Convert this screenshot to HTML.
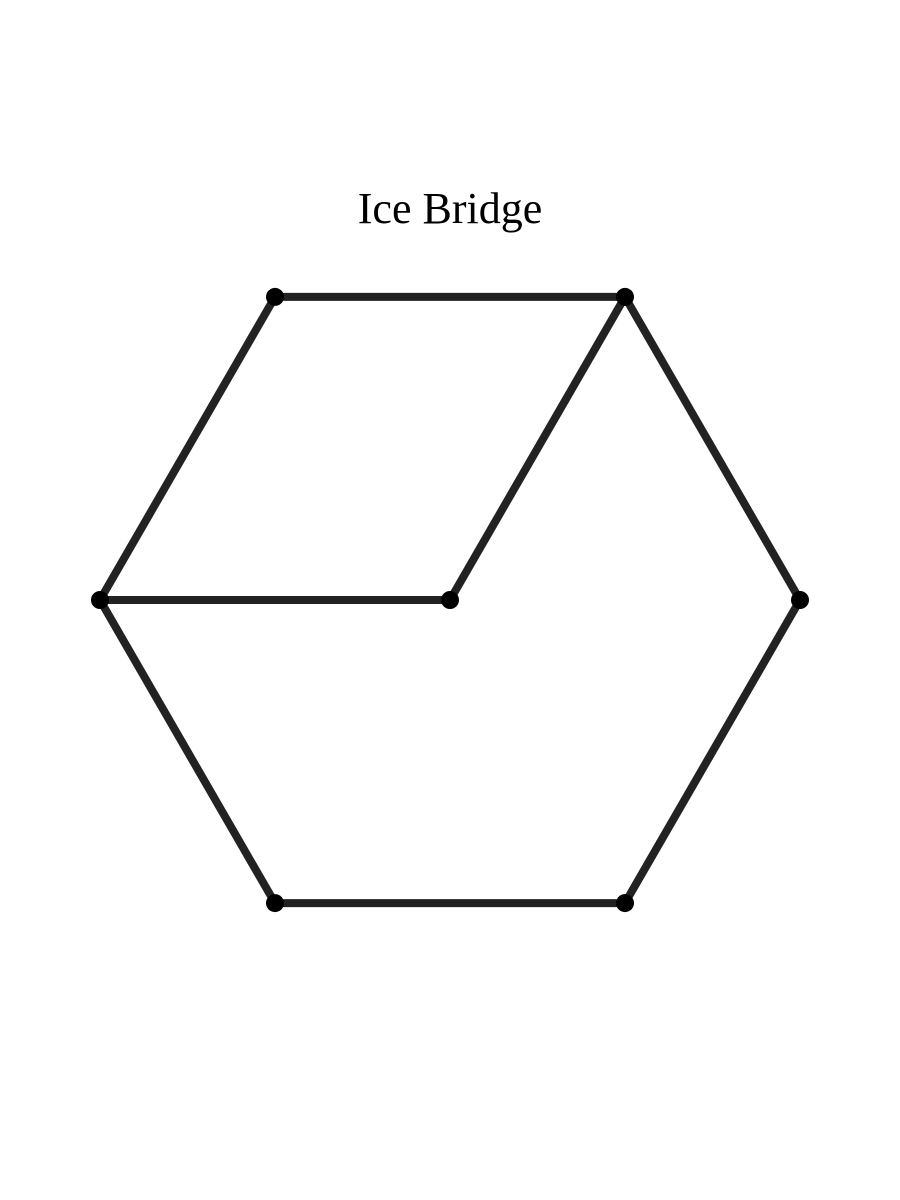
<!DOCTYPE html>
<html>
<head>
<meta charset="utf-8">
<style>
  html, body { margin: 0; padding: 0; background: #fff; }
  svg { display: block; }
</style>
</head>
<body>
<svg id="chart" width="900" height="1200" viewBox="0 0 900 1200" xmlns="http://www.w3.org/2000/svg">
  <rect width="900" height="1200" fill="#ffffff"/>
  <text x="450" y="223" text-anchor="middle" font-family="'Liberation Serif', serif" font-size="44" fill="#000">Ice Bridge</text>
  <g id="edges"></g>
  <g id="nodes"></g>
</svg>
<script>
// Node positions in unit coordinates (hexagon of radius 1 centred at origin)
const nodeX = [1, 0.5, -0.5, -1, -0.5, 0.5, 0];
const nodeY = [0, 0.866, 0.866, 0, -0.866, -0.866, 0];
// Edges as index pairs
const edgeFrom = [0, 1, 2, 3, 4, 5, 3, 6];
const edgeTo   = [1, 2, 3, 4, 5, 0, 6, 1];

const cx = 450, cy = 600, R = 350;
function sx(v) { return cx + v * R; }
function sy(v) { return cy - v * R; }

const NS = 'http://www.w3.org/2000/svg';
const eg = document.getElementById('edges');
const ng = document.getElementById('nodes');

for (let i = 0; i < edgeFrom.length; i++) {
  const a = edgeFrom[i], b = edgeTo[i];
  const ln = document.createElementNS(NS, 'line');
  ln.setAttribute('x1', sx(nodeX[a]));
  ln.setAttribute('y1', sy(nodeY[a]));
  ln.setAttribute('x2', sx(nodeX[b]));
  ln.setAttribute('y2', sy(nodeY[b]));
  ln.setAttribute('stroke', '#222222');
  ln.setAttribute('stroke-width', '8');
  
  
  eg.appendChild(ln);
}

for (let i = 0; i < nodeX.length; i++) {
  const c = document.createElementNS(NS, 'circle');
  c.setAttribute('cx', sx(nodeX[i]));
  c.setAttribute('cy', sy(nodeY[i]));
  c.setAttribute('r', '9');
  c.setAttribute('fill', '#000000');
  
  
  ng.appendChild(c);
}
</script>
</body>
</html>
